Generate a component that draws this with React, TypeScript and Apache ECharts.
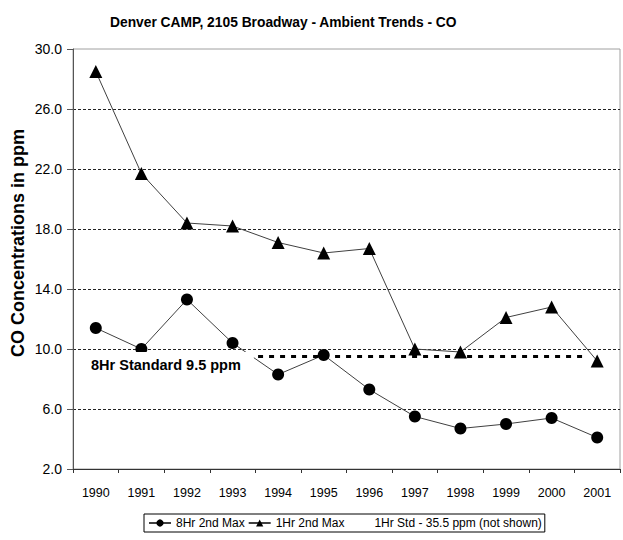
import React, { useEffect, useRef } from "react";
import * as echarts from "echarts";

const years = ["1990", "1991", "1992", "1993", "1994", "1995", "1996", "1997", "1998", "1999", "2000", "2001"];
const eightHr2ndMax = [11.4, 10.0, 13.3, 10.4, 8.3, 9.6, 7.3, 5.5, 4.7, 5.0, 5.4, 4.1];
const oneHr2ndMax = [28.5, 21.7, 18.4, 18.2, 17.1, 16.4, 16.7, 10.0, 9.8, 12.1, 12.8, 9.2];
const standardValue = 9.5;
const standardSpan = [3.56, 10.7]; // category-index positions where the drawn standard line starts/ends
const yTicks = { min: 2, max: 30, interval: 4 };

const TITLE = "Denver CAMP, 2105 Broadway - Ambient Trends - CO";
const Y_NAME = "CO Concentrations in ppm";
const STD_LABEL = "8Hr Standard 9.5 ppm";
const NAME_8HR = "8Hr 2nd Max";
const NAME_1HR = "1Hr 2nd Max";
const NAME_STD = "1Hr Std - 35.5 ppm (not shown)";

const FONT = "'Liberation Sans', Arial, sans-serif";

export default function App() {
  const ref = useRef<HTMLDivElement>(null);
  useEffect(() => {
    document.body.style.margin = "0";
    if (!ref.current) return;
    const chart = echarts.init(ref.current, null, { renderer: "svg" });
    chart.setOption({
      animation: false,
      backgroundColor: "#fff",
      textStyle: { fontFamily: FONT, color: "#000" },
      title: {
        text: TITLE,
        left: 105,
        top: 10,
        textStyle: { fontFamily: FONT, fontSize: 13.8, fontWeight: "bold", color: "#000" },
      },
      grid: {
        left: 73,
        right: 3,
        top: 49,
        bottom: 71,
        show: true,
        borderColor: "#a0a0a0",
        borderWidth: 1,
      },
      legend: {
        left: 144,
        top: 514,
        selectedMode: false,
        borderColor: "#000",
        borderWidth: 1,
        padding: [3, 3, 3, 4],
        itemGap: 3,
        itemWidth: 22,
        itemHeight: 9,
        textStyle: { fontFamily: FONT, fontSize: 12, color: "#000" },
        data: [
          { name: NAME_8HR },
          { name: NAME_1HR },
          { name: NAME_STD, icon: "rect", itemStyle: { opacity: 0 }, lineStyle: { opacity: 0 } },
        ],
      },
      xAxis: [
        {
          type: "category",
          data: years,
          boundaryGap: true,
          axisLine: { onZero: false, lineStyle: { color: "#333", width: 1 } },
          axisTick: { show: true, length: 4, lineStyle: { color: "#333" } },
          axisLabel: { fontFamily: FONT, fontSize: 12.5, color: "#000", margin: 17 },
          splitLine: { show: false },
        },
        {
          type: "value",
          min: -0.5,
          max: years.length - 0.5,
          show: false,
          splitLine: { show: false },
        },
      ],
      yAxis: {
        type: "value",
        min: yTicks.min,
        max: yTicks.max,
        interval: yTicks.interval,
        axisLine: { show: true, onZero: false, lineStyle: { color: "#555", width: 1 } },
        axisTick: { show: true, length: 6, lineStyle: { color: "#555" } },
        axisLabel: {
          fontFamily: FONT,
          fontSize: 14,
          color: "#000",
          margin: 11,
          formatter: (v: number) => v.toFixed(1),
        },
        splitLine: {
          show: true,
          showMinLine: false,
          showMaxLine: false,
          lineStyle: { color: "#222", width: 1, type: [3, 2] },
        },
      },
      graphic: [
        {
          type: "text",
          x: 18,
          y: 243,
          rotation: Math.PI / 2,
          style: {
            text: Y_NAME,
            fontFamily: FONT,
            fontSize: 18,
            fontWeight: "bold",
            fill: "#000",
            textAlign: "center",
            textVerticalAlign: "middle",
          },
          z: 100,
        },
        {
          type: "text",
          x: 85,
          y: 352,
          z: 100,
          style: {
            text: STD_LABEL,
            fontFamily: FONT,
            fontSize: 14.5,
            fontWeight: "bold",
            fill: "#000",
            backgroundColor: "#fff",
            padding: [5, 13, 5, 6],
          },
        },
      ],
      series: [
        {
          name: NAME_8HR,
          type: "line",
          data: eightHr2ndMax,
          symbol: "circle",
          symbolSize: 12,
          itemStyle: { color: "#000" },
          lineStyle: { color: "#404040", width: 1 },
          z: 3,
        },
        {
          name: NAME_1HR,
          type: "line",
          data: oneHr2ndMax,
          symbol: "triangle",
          symbolSize: 13,
          itemStyle: { color: "#000" },
          lineStyle: { color: "#404040", width: 1 },
          z: 3,
        },
        {
          name: NAME_STD,
          type: "line",
          data: [],
          symbol: "none",
          lineStyle: { opacity: 0 },
        },
        {
          name: "8Hr Standard",
          type: "line",
          xAxisIndex: 1,
          data: [
            [standardSpan[0], standardValue],
            [standardSpan[1], standardValue],
          ],
          symbol: "none",
          lineStyle: { color: "#000", width: 3, type: [5, 6] },
          z: 4,
        },
      ],
    });
    return () => chart.dispose();
  }, []);
  return <div ref={ref} style={{ width: 623, height: 540 }} />;
}
